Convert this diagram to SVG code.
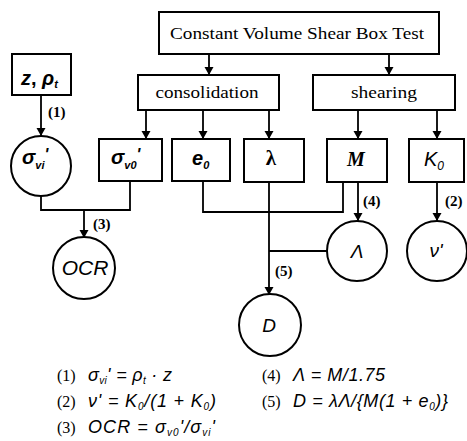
<svg xmlns="http://www.w3.org/2000/svg" width="467" height="441" viewBox="0 0 467 441">
<style>
.box{fill:#fff;stroke:#000;stroke-width:2}
.circ{fill:#fff;stroke:#000;stroke-width:2}
.ln{fill:none;stroke:#000;stroke-width:1.8}
.lbl{font-family:"Liberation Serif",serif;font-size:17.5px;fill:#000}
.num{font-family:"Liberation Serif",serif;font-size:15px;font-weight:bold;fill:#000}
.var{font-family:"Liberation Sans",sans-serif;font-style:italic;font-size:20px;fill:#000}
.cv{font-family:"Liberation Sans",sans-serif;font-style:italic;font-size:19px;fill:#000}
.eq{font-family:"Liberation Sans",sans-serif;font-style:italic;font-size:18px;fill:#000}
.eqn{font-family:"Liberation Serif",serif;font-size:16px;fill:#000}
</style>
<defs>
<marker id="ah" viewBox="0 0 8 10" refX="8" refY="5" markerWidth="8" markerHeight="10" markerUnits="userSpaceOnUse" orient="auto">
<path d="M0,0.5 L8,5 L0,9.5 Z" fill="#000"/>
</marker>
</defs>
<g id="connectors">
<line class="ln" x1="209" y1="54" x2="209" y2="75" marker-end="url(#ah)"/>
<line class="ln" x1="389" y1="54" x2="389" y2="75" marker-end="url(#ah)"/>
<line class="ln" x1="146" y1="110" x2="146" y2="139" marker-end="url(#ah)"/>
<line class="ln" x1="203" y1="110" x2="203" y2="139" marker-end="url(#ah)"/>
<line class="ln" x1="269" y1="110" x2="269" y2="139" marker-end="url(#ah)"/>
<line class="ln" x1="358" y1="110" x2="358" y2="139" marker-end="url(#ah)"/>
<line class="ln" x1="437" y1="110" x2="437" y2="139" marker-end="url(#ah)"/>
<line class="ln" x1="41" y1="95" x2="41" y2="136" marker-end="url(#ah)"/>
<polyline class="ln" points="41,196 41,210 130,210 130,181"/>
<line class="ln" x1="84" y1="210" x2="84" y2="238" marker-end="url(#ah)"/>
<polyline class="ln" points="203,181 203,212 343,212 343,182"/>
<line class="ln" x1="358" y1="182" x2="358" y2="221" marker-end="url(#ah)"/>
<line class="ln" x1="269" y1="182" x2="269" y2="295" marker-end="url(#ah)"/>
<line class="ln" x1="327" y1="251" x2="269" y2="251"/>
<line class="ln" x1="437" y1="182" x2="437" y2="221" marker-end="url(#ah)"/>
<text class="num" x="48" y="117">(1)</text>
<text class="num" x="93" y="229">(3)</text>
<text class="num" x="363" y="206">(4)</text>
<text class="num" x="445" y="206">(2)</text>
<text class="num" x="275" y="276">(5)</text>
</g>
<g id="test">
<rect class="box" x="159" y="12" width="280" height="42"/>
<text class="lbl" x="297" y="39" text-anchor="middle" textLength="254" lengthAdjust="spacingAndGlyphs">Constant Volume Shear Box Test</text>
</g>
<g id="consolidation">
<rect class="box" x="138" y="75" width="141" height="35"/>
<text class="lbl" x="207" y="98" text-anchor="middle" textLength="103" lengthAdjust="spacingAndGlyphs">consolidation</text>
</g>
<g id="shearing">
<rect class="box" x="313" y="75" width="142" height="35"/>
<text class="lbl" x="384" y="98" text-anchor="middle" textLength="66" lengthAdjust="spacingAndGlyphs">shearing</text>
</g>
<g id="z_rho">
<rect class="box" x="12" y="54" width="59" height="41"/>
<text class="var" x="21" y="85" font-weight="bold">z<tspan font-style="normal">,</tspan> ρ<tspan style="font-size:11px" dy="3">t</tspan></text>
</g>
<g id="sigma_vi">
<circle class="circ" cx="41" cy="166" r="30"/>
<text class="var" x="22" y="164" font-weight="bold">σ<tspan style="font-size:11px" dy="5">vi</tspan><tspan dy="-9" style="font-size:16px">'</tspan></text>
</g>
<g id="sigma_v0">
<rect class="box" x="99" y="139" width="63" height="42"/>
<text class="var" x="111" y="164" font-weight="bold">σ<tspan style="font-size:11px" dy="5">v0</tspan><tspan dy="-9" style="font-size:16px">'</tspan></text>
</g>
<g id="e0">
<rect class="box" x="172" y="139" width="58" height="42"/>
<text class="var" x="192" y="165" font-weight="bold">e<tspan style="font-size:11px" dy="4">0</tspan></text>
</g>
<g id="lambda">
<rect class="box" x="244" y="139" width="60" height="43"/>
<text x="271" y="165" text-anchor="middle" style="font-family:'Liberation Serif',serif;font-size:21px;font-weight:bold">λ</text>
</g>
<g id="M">
<rect class="box" x="327" y="139" width="60" height="43"/>
<text x="356" y="166" text-anchor="middle" style="font-family:'Liberation Serif',serif;font-style:italic;font-weight:bold;font-size:20px">M</text>
</g>
<g id="K0">
<rect class="box" x="409" y="139" width="55" height="43"/>
<text class="var" x="424" y="166">K<tspan style="font-size:12px" dy="4">0</tspan></text>
</g>
<g id="OCR">
<circle class="circ" cx="84" cy="268" r="31"/>
<text class="var" x="85" y="275" text-anchor="middle" style="font-size:21px">OCR</text>
</g>
<g id="Lambda">
<circle class="circ" cx="357" cy="251" r="30"/>
<text class="cv" x="357" y="258" text-anchor="middle">Λ</text>
</g>
<g id="nu">
<circle class="circ" cx="437" cy="251" r="30"/>
<text class="cv" x="436" y="257" text-anchor="middle">ν'</text>
</g>
<g id="D">
<circle class="circ" cx="270" cy="325" r="31"/>
<text class="cv" x="269" y="332" text-anchor="middle">D</text>
</g>
<g id="equations">
<text class="eqn" x="57" y="381">(1)</text>
<text class="eq" x="88" y="381" textLength="84" lengthAdjust="spacing">σ<tspan style="font-size:10px" dy="3">vi</tspan><tspan dy="-3">' = ρ</tspan><tspan style="font-size:10px" dy="3">t</tspan><tspan dy="-3"> · z</tspan></text>
<text class="eqn" x="57" y="407">(2)</text>
<text class="eq" x="88" y="407" textLength="128" lengthAdjust="spacing">ν' = K<tspan style="font-size:10px" dy="3">0</tspan><tspan dy="-3">/(1 + K</tspan><tspan style="font-size:10px" dy="3">0</tspan><tspan dy="-3">)</tspan></text>
<text class="eqn" x="57" y="433">(3)</text>
<text class="eq" x="88" y="433" textLength="127" lengthAdjust="spacing">OCR = σ<tspan style="font-size:10px" dy="3">v0</tspan><tspan dy="-3">'/σ</tspan><tspan style="font-size:10px" dy="3">vi</tspan><tspan dy="-3">'</tspan></text>
<text class="eqn" x="262" y="381">(4)</text>
<text class="eq" x="293" y="381" textLength="92" lengthAdjust="spacing">Λ = M/1.75</text>
<text class="eqn" x="262" y="407">(5)</text>
<text class="eq" x="293" y="407" textLength="155" lengthAdjust="spacing">D = λΛ/{M(1 + e<tspan style="font-size:10px" dy="3">0</tspan><tspan dy="-3">)}</tspan></text>
</g>
</svg>
